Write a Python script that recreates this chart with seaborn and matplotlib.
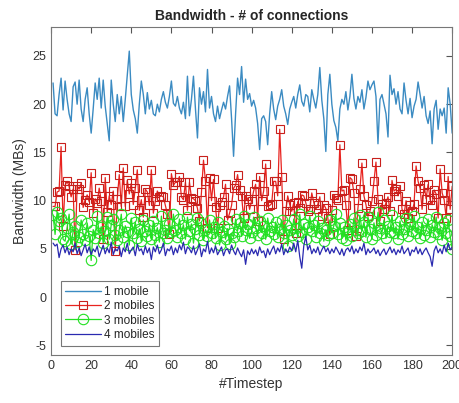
import numpy as np
import pandas as pd
import seaborn as sns
import matplotlib
matplotlib.use("Agg")
import matplotlib.pyplot as plt

# valores (t = 1..200)
timestep = list(range(1, 201))

mobile1 = [
    22.2, 19.0, 18.8, 21.0, 22.7, 19.4, 22.4, 20.5, 19.0, 18.2,
    21.8, 22.3, 20.0, 22.5, 19.5, 18.2, 20.5, 21.7, 19.0, 17.0,
    19.5, 22.2, 20.5, 22.7, 19.6, 22.5, 19.8, 18.0, 16.2, 22.5,
    20.0, 18.2, 21.0, 19.0, 20.8, 18.2, 20.5, 23.0, 25.5, 21.0,
    19.4, 18.5, 17.0, 20.0, 22.4, 21.0, 19.0, 21.2, 19.5, 20.4,
    19.0, 18.8, 20.0, 19.2, 20.5, 21.3, 20.2, 19.6, 20.8, 22.4,
    20.1, 19.8, 20.8, 19.6, 19.0, 20.2, 18.5, 22.9, 18.8, 20.5,
    22.9, 19.5, 16.5, 21.7, 20.0, 21.3, 19.2, 23.6, 19.6, 20.8,
    19.0, 18.2, 19.8, 18.5, 19.4, 20.2, 19.5, 20.8, 21.9, 18.5,
    14.6, 19.0, 22.7, 21.0, 23.9, 20.2, 22.6, 20.5, 21.1, 19.8,
    20.4, 19.6, 18.0, 15.3, 18.5, 18.8, 18.2, 15.8, 19.0, 21.3,
    19.5, 18.4, 19.8, 20.5, 21.5, 19.8, 19.0, 17.9, 19.5, 20.2,
    20.8, 19.6, 21.0, 22.0, 20.3, 19.8, 21.0, 20.8, 19.2, 21.5,
    20.5, 19.6, 21.0, 23.8, 20.4, 18.5, 15.1, 21.0, 23.1, 20.0,
    18.3, 17.6, 16.2, 19.5, 20.5, 20.0, 21.3, 19.4, 20.8, 23.1,
    20.6, 19.5, 20.8, 20.2, 21.5, 19.5, 20.7, 22.4, 21.5, 22.0,
    22.4, 20.8, 15.9, 20.5, 21.0, 20.0, 19.0, 16.6, 23.0, 21.0,
    21.6, 20.0, 21.3, 19.5, 19.0, 22.2, 20.4, 19.0, 20.6, 18.6,
    19.8, 20.5, 22.3, 21.0, 19.6, 20.8, 18.8, 18.0, 19.3, 15.9,
    19.5, 20.4, 17.4, 19.5, 18.8, 19.6, 17.0, 21.7, 20.0, 17.0,
]

mobile2 = [
    9.4, 9.4, 10.9, 11.0, 15.6, 7.4, 11.6, 12.0, 11.5, 10.4,
    11.2, 4.9, 11.5, 11.2, 11.8, 9.3, 10.1, 10.6, 9.9, 12.9,
    8.7, 10.2, 9.8, 11.3, 10.0, 6.0, 12.4, 8.8, 10.5, 9.6,
    11.0, 4.8, 10.2, 12.7, 9.4, 13.4, 9.4, 12.1, 10.7, 11.8,
    9.6, 11.3, 13.2, 9.0, 10.1, 8.3, 11.2, 10.9, 9.5, 13.2,
    8.7, 10.0, 11.0, 10.4, 10.5, 10.4, 9.5, 8.6, 6.5, 12.8,
    11.6, 11.9, 11.9, 12.5, 10.4, 10.1, 11.9, 9.0, 11.9, 10.3,
    10.2, 10.0, 9.2, 7.9, 10.9, 14.2, 12.0, 7.2, 12.4, 10.0,
    12.2, 9.3, 7.2, 9.6, 9.9, 10.4, 11.7, 8.0, 8.7, 9.5,
    11.3, 11.6, 12.7, 11.1, 10.5, 8.2, 10.5, 10.2, 9.1, 10.0,
    11.0, 11.7, 7.9, 12.5, 10.0, 11.0, 13.8, 9.4, 9.5, 9.7,
    12.0, 12.0, 10.5, 17.4, 12.5, 6.0, 8.9, 10.5, 9.6, 8.9,
    9.8, 6.7, 9.9, 9.2, 10.6, 10.5, 9.8, 8.9, 9.1, 10.8,
    9.8, 9.1, 9.6, 10.4, 8.4, 9.6, 9.2, 8.2, 6.5, 9.0,
    10.6, 10.3, 10.1, 15.8, 11.0, 11.1, 9.5, 7.0, 12.4, 12.2,
    10.8, 6.3, 9.2, 11.2, 13.9, 10.5, 9.6, 8.4, 8.9, 10.0,
    12.0, 14.0, 10.2, 7.9, 9.7, 9.1, 9.8, 10.4, 8.9, 12.1,
    11.0, 11.2, 10.5, 11.5, 9.1, 8.6, 10.0, 8.2, 9.5, 8.9,
    9.7, 13.6, 12.0, 11.3, 9.1, 11.6, 10.2, 11.7, 10.1, 9.6,
    11.1, 10.7, 8.2, 13.3, 10.8, 10.1, 8.2, 12.5, 9.1, 11.5,
]

mobile3 = [
    8.5, 6.5, 8.8, 7.9, 8.2, 6.0, 5.8, 7.2, 8.6, 5.5,
    6.8, 7.4, 5.7, 6.2, 8.0, 6.5, 5.9, 7.7, 6.3, 3.8,
    7.0, 6.1, 8.4, 6.6, 7.3, 5.6, 6.9, 8.3, 6.0, 7.5,
    8.1, 6.4, 5.9, 7.0, 8.6, 6.2, 7.4, 6.8, 5.4, 8.2,
    6.6, 7.8, 6.1, 7.1, 5.8, 8.0, 6.9, 6.3, 7.5, 6.0,
    7.9, 6.4, 7.2, 5.7, 8.4, 6.6, 7.0, 6.1, 7.6, 6.8,
    8.6, 7.0, 6.2, 8.1, 6.7, 7.5, 6.0, 8.3, 6.9, 7.6,
    5.6, 7.1, 8.2, 6.4, 7.7, 5.9, 7.0, 6.3, 8.0, 6.6,
    7.3, 6.1, 7.8, 5.4, 6.8, 7.4, 6.0, 7.1, 5.5, 6.6,
    6.2, 8.1, 6.9, 7.7, 6.3, 8.4, 7.0, 7.6, 6.1, 6.8,
    8.3, 7.2, 6.4, 7.9, 6.7, 7.4, 6.0, 8.2, 6.9, 7.3,
    6.5, 7.8, 6.2, 7.1, 8.0, 6.6, 7.5, 5.3, 7.0, 6.4,
    8.1, 7.2, 6.3, 8.6, 6.8, 7.6, 6.0, 7.3, 8.4, 6.9,
    7.5, 6.2, 7.9, 6.6, 7.2, 5.8, 7.0, 6.4, 8.0, 6.7,
    7.4, 8.6, 6.5, 7.7, 6.1, 7.3, 5.9, 6.8, 7.6, 6.3,
    8.2, 7.0, 6.6, 8.5, 6.9, 7.8, 6.2, 8.3, 7.1, 6.0,
    7.7, 6.4, 8.8, 7.2, 6.7, 8.0, 6.1, 7.4, 6.8, 8.5,
    6.6, 7.3, 6.0, 7.9, 6.5, 7.1, 8.2, 6.3, 7.6, 6.9,
    8.4, 6.7, 7.3, 6.1, 7.8, 6.4, 7.0, 8.1, 6.2, 7.5,
    6.8, 8.3, 6.5, 7.2, 5.9, 7.7, 6.6, 8.0, 6.3, 5.0,
]

mobile4 = [
    5.6, 5.3, 5.5, 4.1, 5.0, 5.4, 4.6, 5.2, 4.4, 5.0,
    4.7, 5.6, 4.5, 5.1, 4.3, 4.9, 5.5, 4.6, 5.2, 4.4,
    5.0, 4.7, 5.3, 4.2, 4.8, 5.4, 4.5, 5.1, 4.6, 5.7,
    4.4, 5.0, 4.8, 5.3, 4.2, 5.1, 4.7, 5.6, 4.5, 4.9,
    5.2, 4.3, 5.5, 4.8, 5.0, 4.4, 5.3, 4.6, 5.1, 3.9,
    5.2, 4.7, 5.4, 4.5, 4.9, 5.6, 4.3, 5.0, 4.8, 5.3,
    4.4, 5.1, 4.6, 5.4, 4.9, 5.7, 4.5, 5.2, 5.0, 4.6,
    5.3, 4.4, 4.9, 5.5, 4.2, 5.0, 4.7, 5.8, 4.5, 5.1,
    4.6, 5.3, 4.4, 4.8, 5.2, 4.3, 4.9, 5.0, 4.5, 5.4,
    4.8, 4.4, 5.1, 4.6, 4.2, 4.9, 3.4, 4.8, 4.4, 5.0,
    4.5, 4.9, 4.3, 5.2, 4.6, 4.8, 4.1, 5.0, 4.4, 4.9,
    5.3, 4.5, 5.1, 4.7, 5.5, 4.4, 5.0, 4.6, 5.2, 4.8,
    5.6, 4.7, 5.9, 4.2, 3.0, 5.3, 6.3, 4.9, 5.4, 4.5,
    5.0, 4.6, 5.2, 4.4, 4.9, 5.3, 4.7, 5.1, 4.5, 5.0,
    4.6, 5.2, 4.8, 4.4, 5.0, 4.3, 4.9, 5.1, 4.7, 5.3,
    4.5, 5.0, 4.6, 5.2, 4.8, 5.6, 4.4, 5.0, 4.6, 4.8,
    5.1, 4.5, 4.9, 4.3, 4.7, 5.0, 4.4, 4.8, 5.2, 4.6,
    5.0, 4.4, 4.9, 4.6, 5.3, 4.5, 4.8, 5.1, 4.3, 4.9,
    4.7, 5.2, 4.5, 5.0, 4.4, 4.8, 5.1, 4.6, 4.2, 3.2,
    4.8, 5.3, 4.6, 5.0, 4.5, 5.4, 4.7, 5.6, 4.9, 5.2,
]

sns.set_style("white")
plt.rcParams['font.family'] = ['Liberation Sans', 'DejaVu Sans']
plt.rcParams['axes.unicode_minus'] = False

fig = plt.figure(figsize=(4.6, 4.03), dpi=100)
ax = fig.add_axes([0.111, 0.119, 0.872, 0.814])

sns.lineplot(x=timestep, y=mobile1, color='#3b8bc2', linewidth=1.0,
             label='1 mobile', ax=ax)
sns.lineplot(x=timestep, y=mobile2, color='#e8231f', linewidth=0.9,
             marker='s', markersize=5.5, markerfacecolor='none',
             markeredgecolor='#c8201c', markeredgewidth=0.8,
             label='2 mobiles', ax=ax)
sns.lineplot(x=timestep, y=mobile3, color='#22e022', linewidth=0.9,
             marker='o', markersize=7.5, markerfacecolor='none',
             markeredgecolor='#22e022', markeredgewidth=0.8,
             label='3 mobiles', ax=ax)
sns.lineplot(x=timestep, y=mobile4, color='#2a2ab0', linewidth=0.9,
             label='4 mobiles', ax=ax)

ax.set_xlim(0, 200)
ax.set_ylim(-6, 28)
ax.set_xticks(range(0, 201, 20))
ax.set_yticks(range(-5, 26, 5))
ax.tick_params(direction='in', top=True, right=True, length=4,
               labelsize=9, colors='#555555', labelcolor='#333333')
for s in ax.spines.values():
    s.set_color('#777777')
    s.set_linewidth(0.8)

ax.set_title('Bandwidth - # of connections', fontsize=10, fontweight='bold', pad=5)
ax.set_xlabel('#Timestep', fontsize=10, color='#333333')
ax.set_ylabel('Bandwidth (MBs)', fontsize=10, color='#333333')

leg = ax.legend(loc='lower left', fontsize=8.5, frameon=True, fancybox=False,
                borderaxespad=0.8, handlelength=3.0, labelspacing=0.2,
                borderpad=0.4, handletextpad=0.3)
leg.get_frame().set_edgecolor('#555555')
leg.get_frame().set_linewidth(0.8)

fig.savefig('out.png', dpi=100)
